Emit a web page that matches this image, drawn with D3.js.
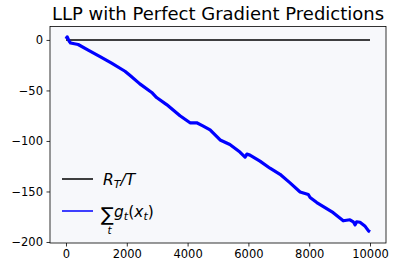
<!DOCTYPE html>
<html>
<head>
<meta charset="utf-8">
<script src="https://cdn.jsdelivr.net/npm/d3@7"></script>
<style>
body { margin: 0; background: #fff; }
text { font-family: "DejaVu Sans", sans-serif; }
</style>
</head>
<body>
<svg id="chart" width="397" height="271"></svg>
<script>
// data
const steps = [0, 40, 100, 150, 400, 730, 1120, 1500, 1940, 2100, 2430, 2820, 2980, 3310, 3750, 4080, 4300, 4500, 4740, 5070, 5390, 5720, 5890, 5950, 6050, 6380, 6710, 7040, 7370, 7700, 7970, 8030, 8250, 8520, 8790, 9120, 9340, 9450, 9510, 9560, 9670, 9840, 9950, 10000];
const gradSum = [1, 3, -1, -3, -4.5, -10, -16.5, -23, -31, -35, -43.5, -52, -57, -64, -75, -82, -82, -85, -89, -99, -103.5, -111, -116, -113, -114, -120, -127, -133, -141.5, -150.5, -153, -156, -161, -166, -171, -179, -178, -180, -183, -180, -180.5, -184.5, -189, -190];
const regretX = [0, 10000];
const regretY = [0, 0];
const xTicks = [0, 2000, 4000, 6000, 8000, 10000];
const yTicks = [0, -50, -100, -150, -200];

const svg = d3.select("#chart");
const mLeft = 50, mRight = 386, mTop = 26.5, mBottom = 243;

let x = d3.scaleLinear().domain([-526, 10526]).range([mLeft, mRight]);
let y = d3.scaleLinear().domain([-201, 13.3]).range([mBottom, mTop]);

svg.append("rect")
  .attr("x", mLeft).attr("y", mTop)
  .attr("width", mRight - mLeft).attr("height", mBottom - mTop)
  .attr("fill", "#f7f8fb");

let line = d3.line().x(d => x(d[0])).y(d => y(d[1]));

svg.append("path")
  .datum(regretX.map((v, i) => [v, regretY[i]]))
  .attr("d", line)
  .attr("fill", "none").attr("stroke", "black").attr("stroke-width", 1.5);

svg.append("path")
  .datum(steps.map((v, i) => [v, gradSum[i]]))
  .attr("d", line)
  .attr("fill", "none").attr("stroke", "#0000ff")
  .attr("stroke-width", 3.2).attr("stroke-linejoin", "round");

// frame
svg.append("rect")
  .attr("x", mLeft).attr("y", mTop)
  .attr("width", mRight - mLeft).attr("height", mBottom - mTop)
  .attr("fill", "none").attr("stroke", "black").attr("stroke-width", 0.8);

// axes
let xAxis = svg.append("g").attr("transform", `translate(0,${mBottom})`)
  .call(d3.axisBottom(x).tickValues(xTicks).tickSize(3.5).tickPadding(3.5).tickFormat(d3.format("d")));
let yAxis = svg.append("g").attr("transform", `translate(${mLeft},0)`)
  .call(d3.axisLeft(y).tickValues(yTicks).tickSize(3.5).tickPadding(3.5)
    .tickFormat(d => d < 0 ? "\u2212" + Math.abs(d) : d));
[xAxis, yAxis].forEach(g => {
  g.select(".domain").remove();
  g.selectAll(".tick line").attr("stroke", "black").attr("stroke-width", 0.8);
  g.selectAll(".tick text").attr("fill", "black")
    .style("font-family", "DejaVu Sans").style("font-size", "11.5px");
});

// title
svg.append("text")
  .attr("x", (mLeft + mRight) / 2).attr("y", 20)
  .attr("text-anchor", "middle")
  .style("font-size", "18px")
  .text("LLP with Perfect Gradient Predictions");

// legend
const lg = svg.append("g");
lg.append("line").attr("x1", 62).attr("x2", 93).attr("y1", 179).attr("y2", 179)
  .attr("stroke", "black").attr("stroke-width", 1.5);
lg.append("line").attr("x1", 62).attr("x2", 93).attr("y1", 211).attr("y2", 211)
  .attr("stroke", "#0000ff").attr("stroke-width", 1.5);

let t1 = lg.append("text").attr("x", 103).attr("y", 185).style("font-size", "15.5px").style("font-style", "italic");
t1.append("tspan").text("R");
t1.append("tspan").attr("dy", 3).style("font-size", "11px").text("T");
t1.append("tspan").attr("dy", -3).text("/T");

lg.append("text").attr("x", 101).attr("y", 221).style("font-size", "19px").text("\u2211");
lg.append("text").attr("x", 107.5).attr("y", 234).style("font-size", "10.5px").style("font-style", "italic").text("t");
let t2 = lg.append("text").attr("x", 114).attr("y", 217).style("font-size", "15.5px").style("font-style", "italic");
t2.append("tspan").text("g");
t2.append("tspan").attr("dy", 3).style("font-size", "11px").text("t");
t2.append("tspan").attr("dy", -3).style("font-style", "normal").text("(");
t2.append("tspan").text("x");
t2.append("tspan").attr("dy", 3).style("font-size", "11px").text("t");
t2.append("tspan").attr("dy", -3).style("font-style", "normal").text(")");
</script>
</body>
</html>
